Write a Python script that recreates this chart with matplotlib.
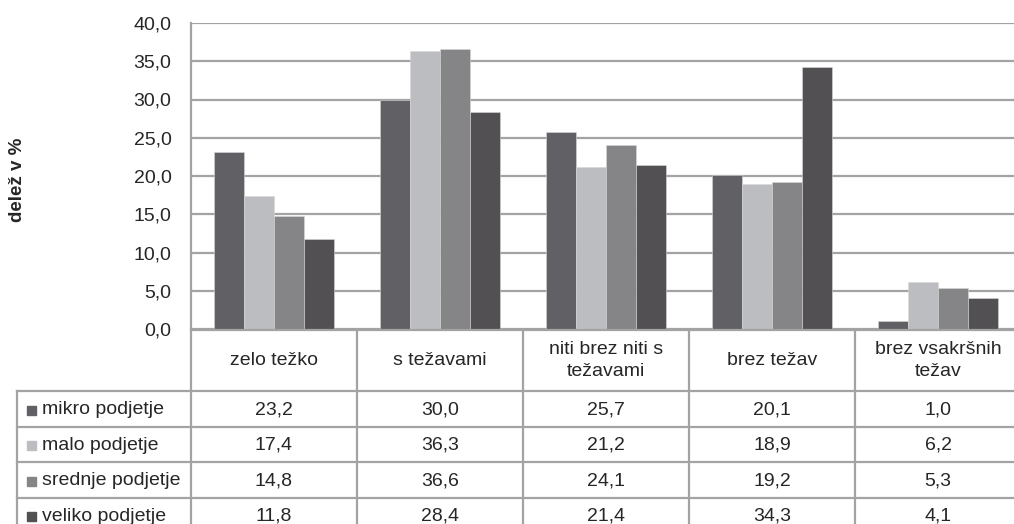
import matplotlib
matplotlib.use('Agg')
import matplotlib.pyplot as plt
from matplotlib.lines import Line2D
from matplotlib.patches import Rectangle
import numpy as np

plt.rcParams['font.family'] = ['Liberation Sans', 'DejaVu Sans']

# podatki
categories = ['zelo težko', 's težavami', 'niti brez niti s\ntežavami', 'brez težav',
              'brez vsakršnih\ntežav']
series = ['mikro podjetje', 'malo podjetje', 'srednje podjetje', 'veliko podjetje']
mikro = [23.2, 30.0, 25.7, 20.1, 1.0]
malo = [17.4, 36.3, 21.2, 18.9, 6.2]
srednje = [14.8, 36.6, 24.1, 19.2, 5.3]
veliko = [11.8, 28.4, 21.4, 34.3, 4.1]
values = [mikro, malo, srednje, veliko]
yticks = [0, 5, 10, 15, 20, 25, 30, 35, 40]

colors = ['#616064', '#bcbdc1', '#858587', '#525053']
grid_col = '#a3a3a3'
text_col = '#262626'
fs = 14

W, H = 1014, 524
fig = plt.figure(figsize=(W / 100, H / 100), dpi=100)


def fx(px):
    return px / W


def fy(py):
    return 1 - py / H


# območje grafa (v pikslih)
left, right, top, bottom = 191, 1021, 23, 329
cat_w = (right - left) / len(categories)

ax = fig.add_axes([fx(left), fy(bottom), fx(right - left), (bottom - top) / H])
x = np.arange(len(categories))
bw = 0.18
for i, (name, vals) in enumerate(zip(series, values)):
    ax.bar(x + (i - 1.5) * bw, vals, width=bw, color=colors[i],
           edgecolor='#d8d8d8', linewidth=0.4, zorder=3)

ax.set_xlim(-0.5, len(categories) - 0.5)
ax.set_ylim(0, 40)
ax.set_yticks(yticks)
ax.set_yticklabels([f'{v:.1f}'.replace('.', ',') for v in yticks],
                   fontsize=fs, color=text_col)
ax.tick_params(axis='y', length=0, pad=14)
ax.set_xticks([])
ax.grid(True, axis='y', color=grid_col, linewidth=1.6, zorder=0)
for s in ['top', 'right', 'bottom']:
    ax.spines[s].set_visible(False)
ax.spines['left'].set_color(grid_col)
ax.spines['left'].set_linewidth(1.6)

fig.text(fx(18), fy(180), 'delež v %', rotation=90, ha='center', va='center',
         fontsize=13.5, fontweight='bold', color=text_col)

# tabela s podatki
header_top, header_bot = 330, 391
row_h = 35.5
legend_left = 17
n_rows = len(series)
table_bot = header_bot + row_h * n_rows


def hline(y, x0, x1):
    fig.add_artist(Line2D([fx(x0), fx(x1)], [fy(y), fy(y)], color=grid_col, lw=1.6))


def vline(x0, y0, y1):
    fig.add_artist(Line2D([fx(x0), fx(x0)], [fy(y0), fy(y1)], color=grid_col, lw=1.6))


hline(header_top, left, right)
for r in range(n_rows):
    hline(header_bot + r * row_h, legend_left, right)
for c in range(len(categories) + 1):
    vline(left + c * cat_w, header_top, table_bot)
vline(legend_left, header_bot, table_bot)

for c, cat in enumerate(categories):
    cx = left + (c + 0.5) * cat_w
    fig.text(fx(cx), fy((header_top + header_bot) / 2), cat, ha='center', va='center',
             fontsize=fs, color=text_col, linespacing=1.35)

for r, (name, vals) in enumerate(zip(series, values)):
    cy = header_bot + (r + 0.5) * row_h + 1
    fig.add_artist(Rectangle((fx(27), fy(cy + 5)), fx(9), 9 / H, color=colors[r],
                             transform=fig.transFigure))
    fig.text(fx(42), fy(cy), name, ha='left', va='center', fontsize=fs, color=text_col)
    for c, v in enumerate(vals):
        cx = left + (c + 0.5) * cat_w
        fig.text(fx(cx), fy(cy), f'{v:.1f}'.replace('.', ','), ha='center', va='center',
                 fontsize=fs, color=text_col)

fig.savefig('out.png', dpi=100)
